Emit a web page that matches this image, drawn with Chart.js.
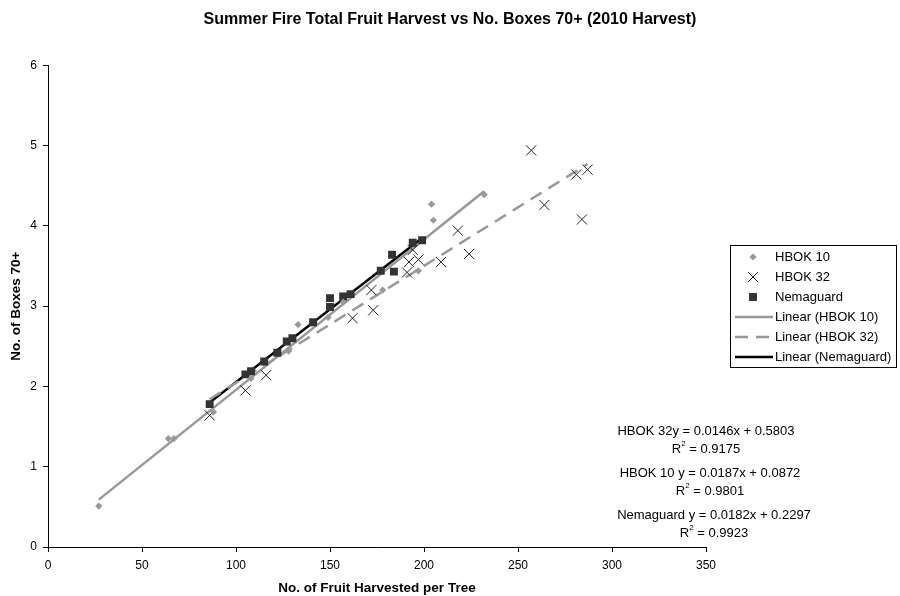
<!DOCTYPE html>
<html>
<head>
<meta charset="utf-8">
<script src="https://cdn.jsdelivr.net/npm/chart.js@4"></script>
<style>
  html, body { margin: 0; padding: 0; background: #fff; }
  #wrap { width: 900px; height: 596px; }
</style>
</head>
<body>
<div id="wrap"><canvas id="chart" width="900" height="596"></canvas></div>
<script>
// Data
const hbok10X = [27, 64, 67, 88, 108, 128, 133, 149, 157, 178, 197, 204, 205, 232];
const hbok10Y = [0.51, 1.35, 1.35, 1.68, 2.1, 2.44, 2.77, 2.86, 3.05, 3.2, 3.44, 4.27, 4.07, 4.39];

const hbok32X = [86, 105, 116, 162, 172, 173, 191, 192, 194, 197, 209, 218, 224, 257, 264, 281, 284, 287];
const hbok32Y = [1.64, 1.95, 2.14, 2.85, 3.2, 2.95, 3.42, 3.55, 3.7, 3.58, 3.55, 3.94, 3.65, 4.94, 4.26, 4.64, 4.08, 4.7];

const nemaX = [86, 105, 108, 115, 122, 127, 130, 141, 150, 150, 157, 161, 177, 183, 184, 194, 199];
const nemaY = [1.78, 2.15, 2.19, 2.31, 2.42, 2.56, 2.6, 2.8, 3.1, 2.99, 3.12, 3.15, 3.44, 3.64, 3.43, 3.79, 3.82];

// trendline ends
const hbok10TrendX = [27, 232];
const hbok10TrendY = [0.59, 4.43];
const hbok32TrendX = [86, 287];
const hbok32TrendY = [1.84, 4.77];
const nemaTrendX = [86, 199];
const nemaTrendY = [1.80, 3.85];

const equationLines = [
  'HBOK 32y = 0.0146x + 0.5803', 'R2 = 0.9175',
  'HBOK 10 y = 0.0187x + 0.0872', 'R2 = 0.9801',
  'Nemaguard y = 0.0182x + 0.2297', 'R2 = 0.9923'
];

const FONT = "'Liberation Sans', Arial, sans-serif";

function pts(xs, ys) {
  return xs.map((x, i) => ({ x: x, y: ys[i] }));
}

const datasets = [
  { label: 'HBOK 10', data: pts(hbok10X, hbok10Y), pointStyle: 'rectRot', pointRadius: 3.6,
    backgroundColor: '#999999', borderColor: '#999999', borderWidth: 0, showLine: false },
  { label: 'HBOK 32', data: pts(hbok32X, hbok32Y), pointStyle: 'crossRot', pointRadius: 7.2,
    backgroundColor: '#222222', borderColor: '#222222', borderWidth: 1, showLine: false },
  { label: 'Nemaguard', data: pts(nemaX, nemaY), pointStyle: 'rect', pointRadius: 5.6,
    backgroundColor: '#333333', borderColor: '#333333', borderWidth: 0, showLine: false },
  { label: 'Linear (HBOK 10)', data: pts(hbok10TrendX, hbok10TrendY), showLine: true,
    borderColor: '#999999', borderWidth: 2.5, pointRadius: 0 },
  { label: 'Linear (HBOK 32)', data: pts(hbok32TrendX, hbok32TrendY), showLine: true,
    borderColor: '#999999', borderWidth: 2.5, borderDash: [13, 8], pointRadius: 0 },
  { label: 'Linear (Nemaguard)', data: pts(nemaTrendX, nemaTrendY), showLine: true,
    borderColor: '#000000', borderWidth: 2.5, pointRadius: 0 }
];

// legend box + equation labels drawn on top
const extras = {
  id: 'extras',
  afterDraw(chart) {
    const ctx = chart.ctx;
    ctx.save();
    // legend
    const bx = 730, by = 245, bw = 166, bh = 122;
    ctx.strokeStyle = '#000';
    ctx.lineWidth = 1;
    ctx.strokeRect(bx + 0.5, by + 0.5, bw, bh);
    ctx.font = '13px ' + FONT;
    ctx.textBaseline = 'middle';
    ctx.textAlign = 'left';
    chart.data.datasets.forEach((ds, i) => {
      const y = by + 12 + i * 20;
      const cx = bx + 23;
      if (ds.showLine) {
        ctx.beginPath();
        ctx.strokeStyle = ds.borderColor;
        ctx.lineWidth = ds.borderWidth;
        ctx.setLineDash(ds.borderDash || []);
        ctx.moveTo(bx + 5, y);
        ctx.lineTo(bx + 43, y);
        ctx.stroke();
        ctx.setLineDash([]);
      } else {
        ctx.fillStyle = ds.backgroundColor;
        ctx.strokeStyle = ds.borderColor;
        ctx.lineWidth = 1;
        ctx.beginPath();
        const r = ds.pointRadius;
        const s = r * Math.SQRT1_2;
        if (ds.pointStyle === 'rectRot') {
          ctx.moveTo(cx, y - r); ctx.lineTo(cx + r, y);
          ctx.lineTo(cx, y + r); ctx.lineTo(cx - r, y); ctx.closePath(); ctx.fill();
        } else if (ds.pointStyle === 'rect') {
          ctx.fillRect(cx - s, y - s, 2 * s, 2 * s);
        } else {
          ctx.moveTo(cx - s, y - s); ctx.lineTo(cx + s, y + s);
          ctx.moveTo(cx - s, y + s); ctx.lineTo(cx + s, y - s); ctx.stroke();
        }
      }
      ctx.fillStyle = '#000';
      ctx.fillText(ds.label, bx + 45, y);
    });

    // equations
    const eqY = [431, 449, 473, 491, 515, 533];
    const eqX = [706, 706, 710, 710, 714, 714];
    ctx.fillStyle = '#000';
    equationLines.forEach((t, i) => {
      ctx.font = '13px ' + FONT;
      if (t.startsWith('R2')) {
        const rest = t.slice(2);
        const wR = ctx.measureText('R').width;
        ctx.font = '8px ' + FONT;
        const w2 = ctx.measureText('2').width;
        ctx.font = '13px ' + FONT;
        const wRest = ctx.measureText(rest).width;
        const x = eqX[i] - (wR + w2 + wRest) / 2;
        ctx.textAlign = 'left';
        ctx.fillText('R', x, eqY[i]);
        ctx.font = '8px ' + FONT;
        ctx.fillText('2', x + wR, eqY[i] - 5);
        ctx.font = '13px ' + FONT;
        ctx.fillText(rest, x + wR + w2, eqY[i]);
      } else {
        ctx.textAlign = 'center';
        ctx.fillText(t, eqX[i], eqY[i]);
      }
    });
    ctx.restore();
  }
};

new Chart(document.getElementById('chart'), {
  type: 'scatter',
  data: { datasets: datasets },
  plugins: [extras],
  options: {
    responsive: false,
    animation: false,
    layout: { padding: 0 },
    plugins: {
      legend: { display: false },
      tooltip: { enabled: false },
      title: {
        display: true,
        text: 'Summer Fire Total Fruit Harvest vs No. Boxes 70+ (2010 Harvest)',
        color: '#000',
        font: { family: FONT, size: 16, weight: 'bold' },
        padding: { top: 10.4, bottom: 35.7 }
      }
    },
    scales: {
      x: {
        type: 'linear',
        min: 0, max: 350,
        ticks: { stepSize: 50, color: '#000', font: { family: FONT, size: 12 }, padding: 6, maxRotation: 0 },
        grid: { drawOnChartArea: false, drawTicks: true, tickLength: 5, color: '#000' },
        border: { color: '#000', width: 1 },
        title: { display: true, text: 'No. of Fruit Harvested per Tree', color: '#000',
          font: { family: FONT, size: 13.5, weight: 'bold' }, padding: { top: 0, bottom: 0 } },
        afterFit(scale) { scale.height = 49; }
      },
      y: {
        type: 'linear',
        min: 0, max: 6,
        ticks: { stepSize: 1, color: '#000', font: { family: FONT, size: 12 }, padding: 6 },
        grid: { drawOnChartArea: false, drawTicks: true, tickLength: 5, color: '#000' },
        border: { color: '#000', width: 1 },
        title: { display: true, text: 'No. of Boxes 70+', color: '#000',
          font: { family: FONT, size: 13.5, weight: 'bold' }, padding: { top: 8.6, bottom: 0 } },
        afterFit(scale) { scale.width = 48; }
      },
      // empty right-hand box that keeps room for the legend and equations
      yRight: {
        type: 'linear',
        position: 'right',
        display: true,
        min: 0, max: 6,
        ticks: { display: false },
        grid: { display: false },
        border: { display: false },
        afterFit(scale) { scale.width = 194; }
      }
    }
  }
});
</script>
</body>
</html>
